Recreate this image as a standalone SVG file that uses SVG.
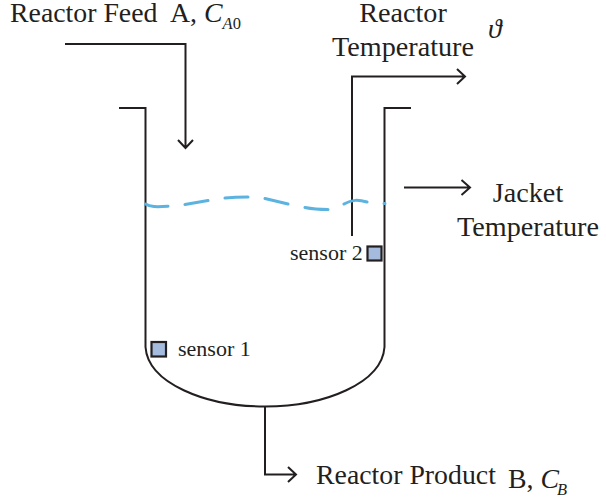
<svg xmlns="http://www.w3.org/2000/svg" width="606" height="501" viewBox="0 0 606 501">
<style>
text{font-family:"Liberation Serif","Times New Roman",serif;fill:#231f20}
.t{font-size:27.800px}
.w{font-size:28.200px}
.s{font-size:22px}
.i{font-style:italic}
.sub{font-size:16.500px;font-style:italic}
.l{fill:none;stroke:#231f20;stroke-width:2}
.sensor{fill:#a4bbdd;stroke:#231f20;stroke-width:2.2}
</style>
<rect width="606" height="501" fill="#fff"/>
<g id="connectors">
<path class="l" d="M65 44H185.500V147.500M178 140L185.500 148L193 140"/>
<path class="l" d="M352 236V76.500H464.500M457 69L465 76.500L457 84"/>
<path class="l" d="M404 187.500H469.500M461.500 180L470 187.500L461.500 195"/>
<path class="l" d="M265 406V474.500H295M288 467L296 474.500L288 482"/>
</g>
<g id="vessel">
<path class="l" d="M119 108H145.500V347C148 383 205 406.500 265 406.500C325 406.500 382 383 384.500 347V108H411"/>
<path d="M145.500 204C150 207 156 207 168 206.300M185 204.500L208 200.500M225 198C235 197 242 197 248 197M265 198.500L288 204M305 207.500C315 209.500 322 209.500 328 209.500M344 204C352 199.500 358 199.500 367 202M384 203.500H385" fill="none" stroke="#5cb3e0" stroke-width="3" stroke-linecap="round"/>
</g>
<g id="sensor1">
<rect class="sensor" x="151.500" y="342" width="14.500" height="14.500"/>
<text class="s" x="178" y="356">sensor 1</text>
</g>
<g id="sensor2">
<rect class="sensor" x="367.500" y="246.500" width="14" height="14"/>
<text class="s" x="290" y="260">sensor 2</text>
</g>
<g id="feed">
<text class="t" x="10" y="22">Reactor Feed</text>
<text class="t" x="170" y="22">A, <tspan class="i">C</tspan><tspan class="sub" dy="6.500"><tspan>A</tspan><tspan font-style="normal">0</tspan></tspan></text>
</g>
<g id="reactor-temperature">
<text class="w" x="403" y="22" text-anchor="middle">Reactor</text>
<text class="w" x="403" y="55.500" text-anchor="middle">Temperature</text>
<text class="t i" x="488" y="38">ϑ</text>
</g>
<g id="jacket-temperature">
<text class="w" x="528" y="201.500" text-anchor="middle">Jacket</text>
<text class="w" x="528" y="235.500" text-anchor="middle">Temperature</text>
</g>
<g id="product">
<text class="t" x="316" y="484">Reactor Product</text>
<text class="t" x="508" y="488">B, <tspan class="i">C</tspan><tspan class="sub" dx="-2" dy="7">B</tspan></text>
</g>
</svg>
